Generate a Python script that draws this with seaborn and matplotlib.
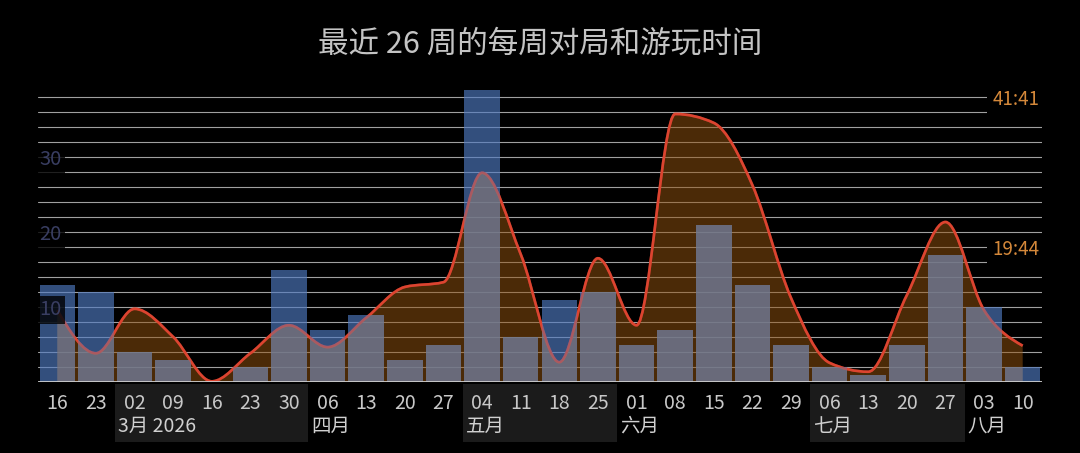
import numpy as np
import pandas as pd
import matplotlib
matplotlib.use("Agg")
import matplotlib.pyplot as plt
from matplotlib.path import Path
from matplotlib.patches import PathPatch, Rectangle
from matplotlib import transforms
import seaborn as sns

# week labels (day of month of each week start)
day_labels = ["16", "23", "02", "09", "16", "23", "30", "06", "13", "20", "27",
              "04", "11", "18", "25", "01", "08", "15", "22", "29", "06", "13",
              "20", "27", "03", "10"]
# games per week (left axis)
games = [13, 12, 4, 3, 0, 2, 15, 7, 9, 3, 5, 39, 6, 11, 12, 5, 7, 21, 13, 5,
         2, 1, 5, 17, 10, 2]
# play time per week in hours (smoothed curve)
hours = [10.5, 4.2, 10.7, 6.6, 0.1, 4.2, 8.3, 5.1, 9.4, 13.9, 14.6, 30.6, 18.7,
         2.9, 18.1, 8.3, 39.2, 37.9, 28.8, 12.3, 2.8, 1.5, 12.7, 23.4, 10.5, 5.3]

month_labels = ["3月 2026", "四月", "五月", "六月", "七月", "八月"]
month_starts = [2, 7, 11, 15, 20, 24]
shaded_months = [(2, 7), (11, 15), (20, 24)]

max_label, max_hours = "41:41", 41 + 41 / 60
avg_label, avg_hours = "19:44", 19 + 44 / 60
count_ticks = [10, 20, 30]
grid_top = 38

title = "最近 26 周的每周对局和游玩时间"

BLUE = "#507bc2"
GREY = "#8a7a74"
ORANGE = "#96540f"
RED = "#dc4430"

sns.set_theme(style="dark", rc={"figure.facecolor": "black",
                                "axes.facecolor": "black",
                                "axes.edgecolor": "black"})
plt.rcParams["font.family"] = ["Noto Sans CJK SC", "DejaVu Sans"]

fig = plt.figure(figsize=(10.8, 4.53), dpi=100)
ax = fig.add_axes([38 / 1080, 1 - 382 / 453, 1004 / 1080, 292.5 / 453])

# hours -> left axis units (max label sits on the top grid line)
unit = grid_top / max_hours
n = len(games)
xs = np.arange(n)
ys = np.array(hours) * unit


def monotone_slopes(y):
    s = np.diff(y)
    m = np.zeros_like(y)
    for i in range(1, len(y) - 1):
        s0, s1 = s[i - 1], s[i]
        p = (s0 + s1) / 2
        m[i] = (np.sign(s0) + np.sign(s1)) * min(abs(s0), abs(s1), 0.5 * abs(p))
    m[0] = (3 * s[0] - m[1]) / 2
    m[-1] = (3 * s[-1] - m[-2]) / 2
    return m


m = monotone_slopes(ys)
verts = [(xs[0], ys[0])]
codes = [Path.MOVETO]
for i in range(n - 1):
    verts += [(xs[i] + 1 / 3, ys[i] + m[i] / 3),
              (xs[i + 1] - 1 / 3, ys[i + 1] - m[i + 1] / 3),
              (xs[i + 1], ys[i + 1])]
    codes += [Path.CURVE4] * 3
curve_path = Path(verts, codes)
area_path = Path(verts + [(xs[-1], 0), (xs[0], 0), (xs[0], 0)],
                 codes + [Path.LINETO, Path.LINETO, Path.CLOSEPOLY])

df = pd.DataFrame({"week": xs, "games": games})

# blue bars for games
sns.barplot(data=df, x="week", y="games", color=BLUE, alpha=0.65, width=0.92,
            saturation=1, linewidth=0, errorbar=None, ax=ax, zorder=4)

# play time area + line
area = PathPatch(area_path, facecolor=ORANGE, alpha=0.5, edgecolor="none", zorder=2)
ax.add_patch(area)
ax.add_patch(PathPatch(curve_path, facecolor="none", edgecolor=RED, lw=1.9, zorder=3))

# overlap of bars and area shows grey
k = len(ax.patches)
sns.barplot(data=df, x="week", y="games", color=GREY, alpha=0.45, width=0.92,
            saturation=1, linewidth=0, errorbar=None, ax=ax, zorder=5)
for p in ax.patches[k:]:
    p.set_clip_path(area)

ax.add_patch(PathPatch(curve_path, facecolor="none", edgecolor=RED, lw=1.9,
                       alpha=0.45, zorder=6))

ax.axhline(0, color="#cfcfcf", lw=2, zorder=7)

ax.set_xlim(-0.5, n - 0.5)
ax.set_ylim(0, 39)
ax.set_yticks(np.arange(2, grid_top + 1, 2))
ax.yaxis.grid(True, color="#a0a0a0", lw=0.8)
ax.xaxis.grid(False)
ax.set_axisbelow(True)
ax.tick_params(left=False, labelleft=False, bottom=False, pad=2)
ax.set_xticks(xs)
ax.set_xticklabels(day_labels, color="#c8c8c8", fontsize=14)
ax.set_xlabel("")
ax.set_ylabel("")
for sp in ax.spines.values():
    sp.set_visible(False)

# left count labels inside the plot
yax = transforms.blended_transform_factory(ax.transAxes, ax.transData)
for t in count_ticks:
    ax.text(0.001, t - 0.35, str(t), transform=yax, ha="left", va="center",
            color="#393e62", fontsize=14.5, zorder=8,
            bbox=dict(boxstyle="square,pad=0.18", fc="black", ec="none", alpha=0.8))

# right time labels
for lab, h in [(max_label, max_hours), (avg_label, avg_hours)]:
    ax.text(0.998, h * unit - 0.35, lab, transform=yax, ha="right", va="center",
            color="#d4883a", fontsize=13.5, zorder=8,
            bbox=dict(boxstyle="square,pad=0.3", fc="black", ec="none"))

# month bands and names under the axis
xfig = transforms.blended_transform_factory(ax.transData, fig.transFigure)
for s, e in shaded_months:
    fig.add_artist(Rectangle((s - 0.5, 1 - 442 / 453), e - s, 58 / 453,
                             transform=xfig, facecolor="#1b1b1b", edgecolor="none",
                             zorder=-1))
for lab, s in zip(month_labels, month_starts):
    fig.text(s - 0.5 + 0.08, 1 - 426 / 453, lab, transform=xfig, ha="left",
             va="center", color="#d0d0d0", fontsize=14)

fig.text(0.5, 1 - 44 / 453, title, ha="center", va="center", color="#c4c4c4",
         fontsize=22)

fig.savefig("out.png", dpi=100, facecolor="black")
